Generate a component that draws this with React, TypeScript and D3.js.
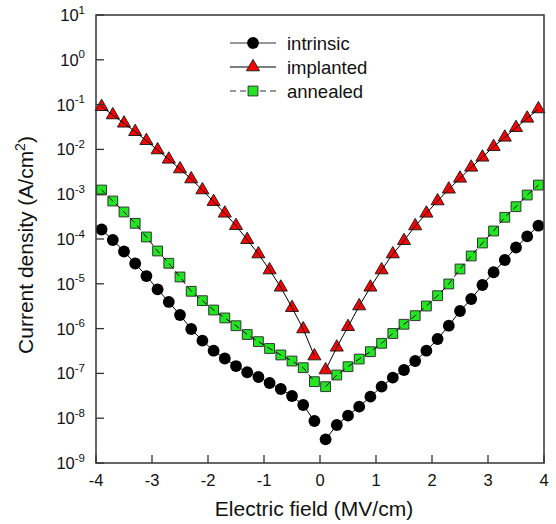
import React from "react";
import * as d3 from "d3";

const fieldNeg = [-3.9, -3.7, -3.5, -3.3, -3.1, -2.9, -2.7, -2.5, -2.3, -2.1, -1.9, -1.7, -1.5, -1.3, -1.1, -0.9, -0.7, -0.5, -0.3, -0.1];
const fieldPos = [0.1, 0.3, 0.5, 0.7, 0.9, 1.1, 1.3, 1.5, 1.7, 1.9, 2.1, 2.3, 2.5, 2.7, 2.9, 3.1, 3.3, 3.5, 3.7, 3.9];

const intrinsicNeg = [1.63e-4, 9.51e-5, 5.26e-5, 2.84e-5, 1.49e-5, 7.53e-6, 3.93e-6, 2.01e-6, 9.79e-7, 5.37e-7, 3.21e-7, 2.15e-7, 1.46e-7, 1.06e-7, 8.32e-8, 6.11e-8, 4.49e-8, 3.13e-8, 1.97e-8, 8.65e-9];
const intrinsicPos = [3.38e-9, 7.05e-9, 1.14e-8, 1.81e-8, 3.02e-8, 5.05e-8, 8.02e-8, 1.19e-7, 1.89e-7, 3.21e-7, 5.86e-7, 1.16e-6, 2.47e-6, 4.58e-6, 9.40e-6, 1.81e-5, 3.40e-5, 6.46e-5, 1.14e-4, 1.98e-4];

const implantedNeg = [8.97e-2, 5.86e-2, 3.83e-2, 2.48e-2, 1.56e-2, 9.70e-3, 6.01e-3, 3.65e-3, 2.18e-3, 1.24e-3, 6.81e-4, 3.75e-4, 1.98e-4, 9.64e-5, 4.62e-5, 2.03e-5, 8.36e-6, 2.93e-6, 9.79e-7, 2.44e-7];
const implantedPos = [1.19e-7, 3.83e-7, 1.10e-6, 3.19e-6, 8.36e-6, 2.03e-5, 4.62e-5, 9.16e-5, 1.95e-4, 3.75e-4, 7.05e-4, 1.29e-3, 2.26e-3, 3.98e-3, 6.67e-3, 1.15e-2, 1.86e-2, 3.05e-2, 4.94e-2, 7.98e-2];

const annealedNeg = [1.24e-3, 7.05e-4, 4.01e-4, 2.24e-4, 1.11e-4, 5.40e-5, 2.87e-5, 1.42e-5, 6.81e-6, 4.20e-6, 2.60e-6, 1.73e-6, 1.16e-6, 7.38e-7, 5.11e-7, 3.60e-7, 2.58e-7, 1.89e-7, 1.34e-7, 6.53e-8];
const annealedPos = [5.05e-8, 9.20e-8, 1.41e-7, 2.09e-7, 3.05e-7, 4.70e-7, 7.78e-7, 1.25e-6, 1.94e-6, 3.19e-6, 5.42e-6, 9.91e-6, 2.14e-5, 4.18e-5, 8.15e-5, 1.51e-4, 3.05e-4, 5.26e-4, 9.59e-4, 1.60e-3];

const xTicks = [-4, -3, -2, -1, 0, 1, 2, 3, 4];
const yTickExponents = [1, 0, -1, -2, -3, -4, -5, -6, -7, -8, -9];
const seriesNames = ["intrinsic", "implanted", "annealed"];

const W = 556;
const H = 524;
const left = 96;
const top = 15;
const pw = 448;
const ph = 448;
const FONT = "'Liberation Sans', Arial, Helvetica, sans-serif";

export default function App() {
  const x = d3.scaleLinear().domain([-4, 4]).range([left, left + pw]);
  const y = d3.scaleLog().domain([1e-9, 1e1]).range([top + ph, top]);

  const line = d3
    .line<[number, number]>()
    .x((d) => x(d[0]))
    .y((d) => y(d[1]));

  const pairs = (xs: number[], ys: number[]) => xs.map((v, i) => [v, ys[i]] as [number, number]);

  const series = [
    { name: seriesNames[0], branches: [pairs(fieldNeg, intrinsicNeg), pairs(fieldPos, intrinsicPos)], kind: "circle", dash: undefined as string | undefined },
    { name: seriesNames[1], branches: [pairs(fieldNeg, implantedNeg), pairs(fieldPos, implantedPos)], kind: "triangle", dash: undefined },
    { name: seriesNames[2], branches: [pairs(fieldNeg, annealedNeg), pairs(fieldPos, annealedPos)], kind: "square", dash: "6,4" },
  ];

  const triPath = d3.symbol().type(d3.symbolTriangle).size(74)() as string;
  const sqPath = d3.symbol().type(d3.symbolSquare).size(96)() as string;

  const marker = (kind: string, cx: number, cy: number, key: string) => {
    if (kind === "circle") return <circle key={key} cx={cx} cy={cy} r={5.9} fill="#000" />;
    if (kind === "triangle")
      return <path key={key} d={triPath} transform={`translate(${cx},${cy})`} fill="#ff0000" stroke="#222" strokeWidth={1} />;
    return <path key={key} d={sqPath} transform={`translate(${cx},${cy})`} fill="#22e622" stroke="#333" strokeWidth={1} />;
  };

  const legendRows = [43, 67, 91];

  return (
    <svg width={W} height={H} style={{ position: "absolute", left: 0, top: 0, background: "#fff" }} fontFamily={FONT}>
      <rect x={0} y={0} width={W} height={H} fill="#fff" />
      {series.map((s) =>
        s.branches.map((b, bi) => b.map((d, i) => marker(s.kind, x(d[0]), y(d[1]), `${s.name}-${bi}-${i}`)))
      )}
      {series.map((s) =>
        s.branches.map((b, bi) => (
          <path key={`l-${s.name}-${bi}`} d={line(b) as string} fill="none" stroke="#000" strokeWidth={1} strokeDasharray={s.dash} />
        ))
      )}
      <rect x={left} y={top} width={pw} height={ph} fill="none" stroke="#333" strokeWidth={1.5} />
      {yTickExponents.map((e) => {
        const ty = y(Math.pow(10, e));
        return (
          <g key={`yt${e}`}>
            <line x1={left} x2={left + 8} y1={ty} y2={ty} stroke="#333" strokeWidth={1.3} />
            <text x={85} y={ty + 6} textAnchor="end" fontSize={16.5} fill="#111">
              10
              <tspan fontSize={11.5} dy={-7.5}>
                {e}
              </tspan>
            </text>
          </g>
        );
      })}
      {xTicks.map((t) => (
        <g key={`xt${t}`}>
          <line x1={x(t)} x2={x(t)} y1={top + ph} y2={top + ph - 8} stroke="#333" strokeWidth={1.3} />
          <text x={x(t)} y={486} textAnchor="middle" fontSize={16.5} fill="#111">
            {t}
          </text>
        </g>
      ))}
      <text x={314} y={516} textAnchor="middle" fontSize={21} fill="#111">
        Electric field (MV/cm)
      </text>
      <text transform={`translate(33,245) rotate(-90)`} textAnchor="middle" fontSize={21} fill="#111">
        Current density (A/cm
        <tspan fontSize={14} dy={-8}>
          2
        </tspan>
        <tspan dy={8}>)</tspan>
      </text>
      {series.map((s, i) => {
        const ly = legendRows[i];
        return (
          <g key={`lg${i}`}>
            <line x1={230} x2={276} y1={ly} y2={ly} stroke={i === 1 ? "#000" : "#333"} strokeWidth={1.2} strokeDasharray={s.dash} />
            {marker(s.kind, 253, ly, `lgm${i}`)}
            <text x={287} y={ly + 6.5} fontSize={18.5} fill="#111">
              {s.name}
            </text>
          </g>
        );
      })}
    </svg>
  );
}
